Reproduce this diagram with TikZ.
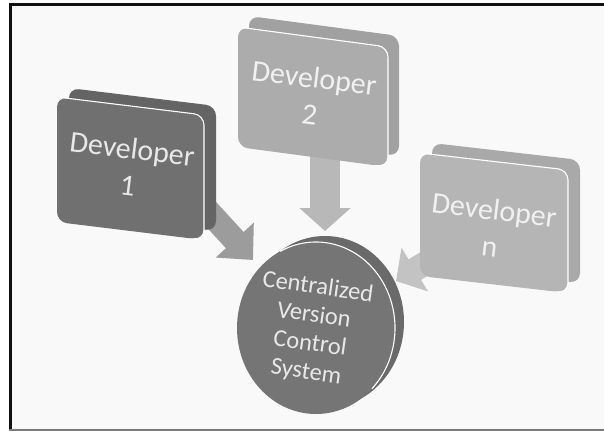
\documentclass[tikz,border=0pt]{standalone}
\usepackage{fontspec}
\setmainfont{Carlito}
\usetikzlibrary{arrows.meta,calc}
\definecolor{bgc}{HTML}{F9F9F9}
\definecolor{framec}{HTML}{111111}
\definecolor{bottomc}{HTML}{7A7A7A}
\definecolor{dOneFront}{HTML}{707070}
\definecolor{dOneBack}{HTML}{646464}
\definecolor{dTwoFront}{HTML}{ACACAC}
\definecolor{dTwoBack}{HTML}{A1A1A1}
\definecolor{dNFront}{HTML}{B5B5B5}
\definecolor{dNBack}{HTML}{A9A9A9}
\definecolor{circFront}{HTML}{757575}
\definecolor{circBack}{HTML}{6A6A6A}
\definecolor{arrOne}{HTML}{9C9C9C}
\definecolor{arrTwo}{HTML}{B8B8B8}
\definecolor{arrN}{HTML}{C3C3C3}
\definecolor{txtDark}{HTML}{E8E8E8}
\definecolor{txtLight}{HTML}{F1F1F1}
\tikzset{
  facebox/.style={rounded corners=10pt},
  hilite/.style={draw=white, line width=1.1pt, rounded corners=10pt},
  devtext/.style={align=center, rotate=-7, inner sep=0pt, font=\fontsize{30}{37}\selectfont},
  circtext/.style={align=center, rotate=-8, inner sep=0pt, font=\fontsize{24.5}{28.5}\selectfont, text=txtDark},
}
\begin{document}
\begin{tikzpicture}[x=1pt,y=-1pt]
\useasboundingbox (0,0) rectangle (604,431);
\fill[white] (0,0) rectangle (604,431);
\fill[bgc] (10,4) rectangle (604,430);
\draw[framec, line width=3pt] (10.5,431) -- (10.5,4.5) -- (604,4.5);
\draw[bottomc, line width=2pt] (9,429.5) -- (604,429.5);

% arrow end points
\coordinate (a1s) at (198,200);
\coordinate (a1e) at (253,260);
\coordinate (a2s) at (325,150);
\coordinate (a2e) at (325,231);
\coordinate (ans) at (452,247);
\coordinate (ane) at (396,281);

\draw[arrOne, line width=24pt, -{Triangle[length=27pt,width=50pt]}] (a1s) -- (a1e);
\draw[arrTwo, line width=30pt, -{Triangle[length=23pt,width=50pt]}] (a2s) -- (a2e);
\draw[arrN, line width=24pt, -{Triangle[length=22pt,width=50pt]}] (ans) -- (ane);

% central disc
\fill[circBack] (325,322) ellipse [x radius=79pt, y radius=86pt];
\fill[circFront] (316,328) ellipse [x radius=79pt, y radius=86pt];
\draw[white, line width=1.1pt] (316,328) ++(117:79pt and 86pt)
  arc[start angle=117, end angle=-45, x radius=79pt, y radius=86pt];
\node[circtext] (cvcs) at (312,330) {Centralized\\Version\\Control\\System};

% Developer 1
\fill[dOneBack, facebox] (69,88) -- (216,106) -- (216,231) -- (69,213) -- cycle;
\fill[dOneFront, facebox] (57,97) -- (204,115) -- (204,240) -- (57,222) -- cycle;
\draw[hilite] ($(57,97)!0.03!(204,115)$) -- (204,115) -- (204,240) -- ($(204,240)!0.05!(57,222)$);
\node[devtext, text=txtDark] (d1) at (130,167) {Developer\\1};

% Developer 2
\fill[dTwoBack, facebox] (249,16) -- (399,36) -- (399,156) -- (249,136) -- cycle;
\fill[dTwoFront, facebox] (238,27) -- (388,47) -- (388,167) -- (238,147) -- cycle;
\draw[hilite] ($(238,27)!0.03!(388,47)$) -- (388,47) -- (388,167) -- ($(388,167)!0.05!(238,147)$);
\node[devtext, text=txtLight] (d2) at (312,96) {Developer\\2};

% Developer n
\fill[dNBack, facebox] (432,143) -- (580,160) -- (580,283) -- (432,266) -- cycle;
\fill[dNFront, facebox] (420,153) -- (568,170) -- (568,293) -- (420,276) -- cycle;
\draw[hilite] ($(420,153)!0.03!(568,170)$) -- (568,170) -- (568,293) -- ($(568,293)!0.05!(420,276)$);
\node[devtext, text=txtLight] (dn) at (492,228) {Developer\\n};
\end{tikzpicture}
\end{document}
